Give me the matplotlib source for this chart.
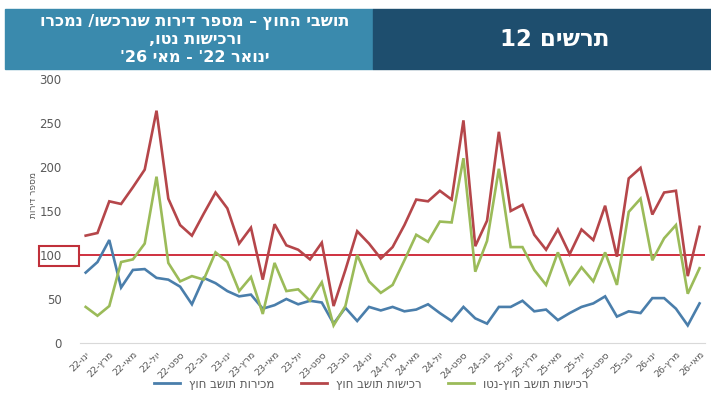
import matplotlib
matplotlib.use('Agg')
import matplotlib.pyplot as plt
from matplotlib.patches import Rectangle
from matplotlib.lines import Line2D

plt.rcParams['font.family'] = ['DejaVu Sans']

# חודשים: ינואר 22 עד מאי 26
month_names = ['ינו', 'פבר', 'מרץ', 'אפר', 'מאי', 'יונ', 'יול', 'אוג', 'ספט', 'אוק', 'נוב', 'דצמ']
years = ['22'] * 12 + ['23'] * 12 + ['24'] * 12 + ['25'] * 12 + ['26'] * 5

# מכירות תושב חוץ
sales = [80, 92, 117, 63, 83, 84, 74, 72, 64, 44, 74, 68, 59,
         53, 55, 39, 43, 50, 44, 48, 46, 22, 40, 25, 41, 37,
         41, 36, 38, 44, 34, 25, 41, 28, 22, 41, 41, 48, 36,
         38, 26, 34, 41, 45, 53, 30, 36, 34, 51, 51, 39, 20, 45]
# רכישות תושב חוץ
purchases = [122, 125, 161, 158, 177, 197, 264, 164, 134, 122, 147, 171, 153,
             113, 131, 72, 135, 111, 106, 95, 114, 42, 83, 127, 113, 96,
             109, 134, 163, 161, 173, 163, 253, 110, 139, 240, 150, 157, 123,
             106, 129, 101, 129, 117, 156, 98, 187, 199, 146, 171, 173, 76, 132]
# רכישות נטו
net = [41, 31, 42, 92, 95, 113, 189, 91, 70, 76, 72, 103, 92,
       59, 75, 33, 91, 59, 61, 48, 69, 20, 42, 100, 70, 57,
       66, 94, 123, 115, 138, 137, 210, 81, 116, 198, 109, 109, 83,
       66, 103, 67, 86, 70, 103, 66, 149, 164, 94, 119, 134, 56, 85]

threshold = 100

series_names = ['מכירות תושב חוץ', 'רכישות תושב חוץ', 'רכישות תושב חוץ-נטו']
series_colors = ['#4a7eab', '#b5464a', '#9bbb59']


def vis(s):
    # matplotlib לא הופך טקסט מימין לשמאל - הופכים ידנית
    return s[::-1]


labels = [f"{years[i]}-{vis(month_names[i % 12])}" for i in range(len(years))]
x = list(range(len(years)))

fig = plt.figure(figsize=(7.11, 4), dpi=100)
ax = fig.add_axes([0.1122, 0.1425, 0.88, 0.66])

# כותרות
fig.patches.append(Rectangle((5 / 711, 1 - 69 / 400), 368 / 711, 60 / 400,
                             transform=fig.transFigure, color='#3a8aad', zorder=0))
fig.patches.append(Rectangle((373 / 711, 1 - 69 / 400), 338 / 711, 60 / 400,
                             transform=fig.transFigure, color='#1e4e6e', zorder=0))
title_lines = [vis('תושבי החוץ – מספר דירות שנרכשו/ נמכרו'),
               vis('ורכישות נטו,'),
               "'26 " + vis('מאי') + " - '22 " + vis('ינואר')]
for line, ypix in zip(title_lines, [22, 40, 57]):
    fig.text(195 / 711, 1 - ypix / 400, line, ha='center', va='center',
             color='white', fontsize=11.5, fontweight='bold')
fig.text(555 / 711, 1 - 40 / 400, '12 ' + vis('תרשים'), ha='center', va='center',
         color='white', fontsize=16.5, fontweight='bold')

# קווים
for vals, color in zip([sales, purchases, net], series_colors):
    ax.plot(x, vals, color=color, lw=1.9, solid_joinstyle='miter')

ax.axhline(threshold, color='#cc2030', lw=1.3, zorder=1)

ax.set_xlim(-0.5, len(x) - 0.5)
ax.set_ylim(0, 300)
ax.set_yticks(range(0, 301, 50))
ax.set_xticks(x[::2])
ax.set_xticklabels(labels[::2], rotation=45, ha='right', rotation_mode='anchor')
ax.tick_params(axis='y', length=0, pad=13, labelsize=8.5, labelcolor='#595959')
ax.tick_params(axis='x', length=0, pad=5, labelsize=6.8, labelcolor='#595959')
for s in ['top', 'right', 'left']:
    ax.spines[s].set_visible(False)
ax.spines['bottom'].set_color('#d9d9d9')

fig.text(33 / 711, 1 - 195 / 400, vis('מספר דירות'), rotation=90, ha='center', va='center',
         fontsize=6.5, color='#595959')

# מסגרת סביב 100
fig.patches.append(Rectangle((39 / 711, 1 - 266 / 400), 40 / 711, 20 / 400,
                             transform=fig.transFigure, fill=False,
                             edgecolor='#c0303a', lw=1.5))

handles = [Line2D([0], [0], color=c, lw=2) for c in series_colors]
fig.legend(handles, [vis(n) for n in series_names], loc='center',
           bbox_to_anchor=(0.522, 0.04), ncol=3, frameon=False, fontsize=8.5,
           handlelength=2.2, columnspacing=2.2, labelcolor='#595959')

fig.savefig('out.png', dpi=100)
